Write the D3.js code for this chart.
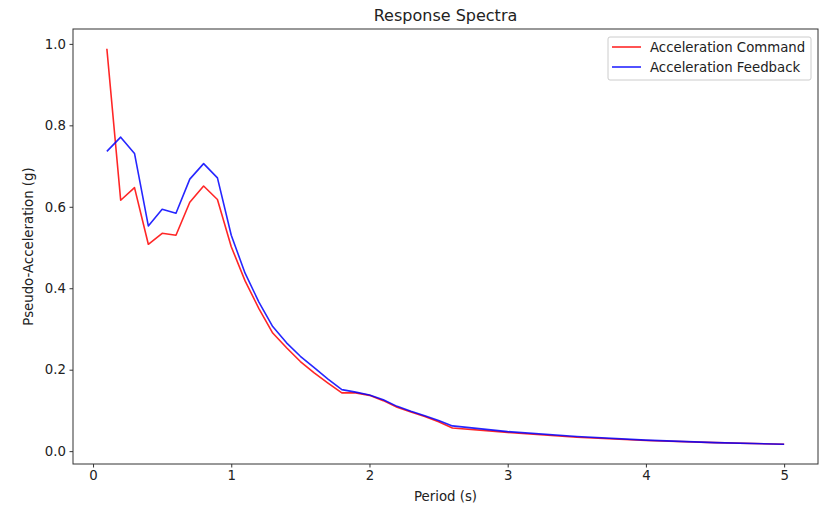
<!DOCTYPE html>
<html>
<head>
<meta charset="utf-8">
<script src="https://cdn.jsdelivr.net/npm/d3@7"></script>
<style>
  body { margin: 0; background: #fff; }
  svg { display: block; font-family: "DejaVu Sans", sans-serif; }
</style>
</head>
<body>
<svg id="chart" width="821" height="506"></svg>
<script>
// periods (s)
const periods = [0.1, 0.2, 0.3, 0.4, 0.5, 0.6, 0.7, 0.8, 0.9, 1.0,
  1.1, 1.2, 1.3, 1.4, 1.5, 1.6, 1.7, 1.8, 1.9, 2.0,
  2.1, 2.2, 2.3, 2.4, 2.5, 2.6, 3.0, 3.5, 4.0, 4.5, 5.0];
// pseudo-acceleration (g)
const command = [0.988, 0.616, 0.647, 0.508, 0.535, 0.530, 0.611, 0.651, 0.618, 0.502,
  0.418, 0.350, 0.290, 0.254, 0.220, 0.192, 0.167, 0.143, 0.143, 0.137,
  0.124, 0.108, 0.096, 0.085, 0.072, 0.057, 0.046, 0.034, 0.026, 0.021, 0.017];
const feedback = [0.736, 0.771, 0.731, 0.553, 0.594, 0.584, 0.668, 0.706, 0.671, 0.530,
  0.437, 0.366, 0.306, 0.266, 0.233, 0.205, 0.177, 0.151, 0.145, 0.138,
  0.126, 0.110, 0.098, 0.087, 0.075, 0.062, 0.048, 0.036, 0.027, 0.021, 0.017];
const seriesNames = ["Acceleration Command", "Acceleration Feedback"];
const seriesColors = ["#ff0000", "#0000ff"];
const xTicks = [0, 1, 2, 3, 4, 5];
const yTicks = [0.0, 0.2, 0.4, 0.6, 0.8, 1.0];

const svg = d3.select("#chart");
const m = { left: 73, right: 3, top: 29, bottom: 42 };
const W = 821, H = 506;
const fs = 13.3;

// matplotlib style 5% margins
const pad = (lo, hi) => [lo - (hi - lo) * 0.05, hi + (hi - lo) * 0.05];
const allY = command.concat(feedback);
const x = d3.scaleLinear().domain(pad(d3.min(periods), d3.max(periods))).range([m.left, W - m.right]);
const y = d3.scaleLinear().domain(pad(d3.min(allY), d3.max(allY))).range([H - m.bottom, m.top]);

const xAxis = svg.append("g")
  .attr("transform", `translate(0,${H - m.bottom})`)
  .call(d3.axisBottom(x).tickValues(xTicks).tickFormat(d3.format("d")).tickSizeOuter(0).tickSize(3.5).tickPadding(3.5));
const yAxis = svg.append("g")
  .attr("transform", `translate(${m.left},0)`)
  .call(d3.axisLeft(y).tickValues(yTicks).tickFormat(d3.format(".1f")).tickSizeOuter(0).tickSize(3.5).tickPadding(3.5));
[xAxis, yAxis].forEach(g => {
  g.select(".domain").remove();
  g.selectAll("line").attr("stroke", "#333");
  g.selectAll("text").attr("font-size", fs).attr("fill", "#222").attr("font-family", "DejaVu Sans");
});

const line = d3.line().x((d, i) => x(periods[i])).y(d => y(d));
[command, feedback].forEach((s, k) => {
  svg.append("path")
    .datum(s)
    .attr("fill", "none")
    .attr("stroke", seriesColors[k])
    .attr("stroke-opacity", 0.85)
    .attr("stroke-width", 1.6)
    .attr("stroke-linejoin", "round")
    .attr("d", line);
});

// frame
svg.append("rect")
  .attr("x", m.left).attr("y", m.top)
  .attr("width", W - m.left - m.right).attr("height", H - m.top - m.bottom)
  .attr("fill", "none").attr("stroke", "#333").attr("stroke-width", 1);

svg.append("text")
  .attr("x", (m.left + W - m.right) / 2).attr("y", 21)
  .attr("text-anchor", "middle").attr("font-size", 16).attr("fill", "#222")
  .text("Response Spectra");
svg.append("text")
  .attr("x", (m.left + W - m.right) / 2).attr("y", 501)
  .attr("text-anchor", "middle").attr("font-size", fs).attr("fill", "#222")
  .text("Period (s)");
svg.append("text")
  .attr("transform", `translate(33,${(m.top + H - m.bottom) / 2}) rotate(-90)`)
  .attr("text-anchor", "middle").attr("font-size", fs).attr("fill", "#222")
  .text("Pseudo-Acceleration (g)");

// legend
const lg = svg.append("g").attr("transform", "translate(608,37)");
lg.append("rect").attr("width", 203).attr("height", 43).attr("rx", 2)
  .attr("fill", "#fff").attr("stroke", "#ccc");
seriesNames.forEach((name, k) => {
  const yy = 10 + k * 20;
  lg.append("line").attr("x1", 4).attr("x2", 33).attr("y1", yy).attr("y2", yy)
    .attr("stroke", seriesColors[k]).attr("stroke-opacity", 0.85).attr("stroke-width", 1.6);
  lg.append("text").attr("x", 42).attr("y", yy + 4.8).attr("font-size", fs).attr("fill", "#222").text(name);
});
</script>
</body>
</html>
